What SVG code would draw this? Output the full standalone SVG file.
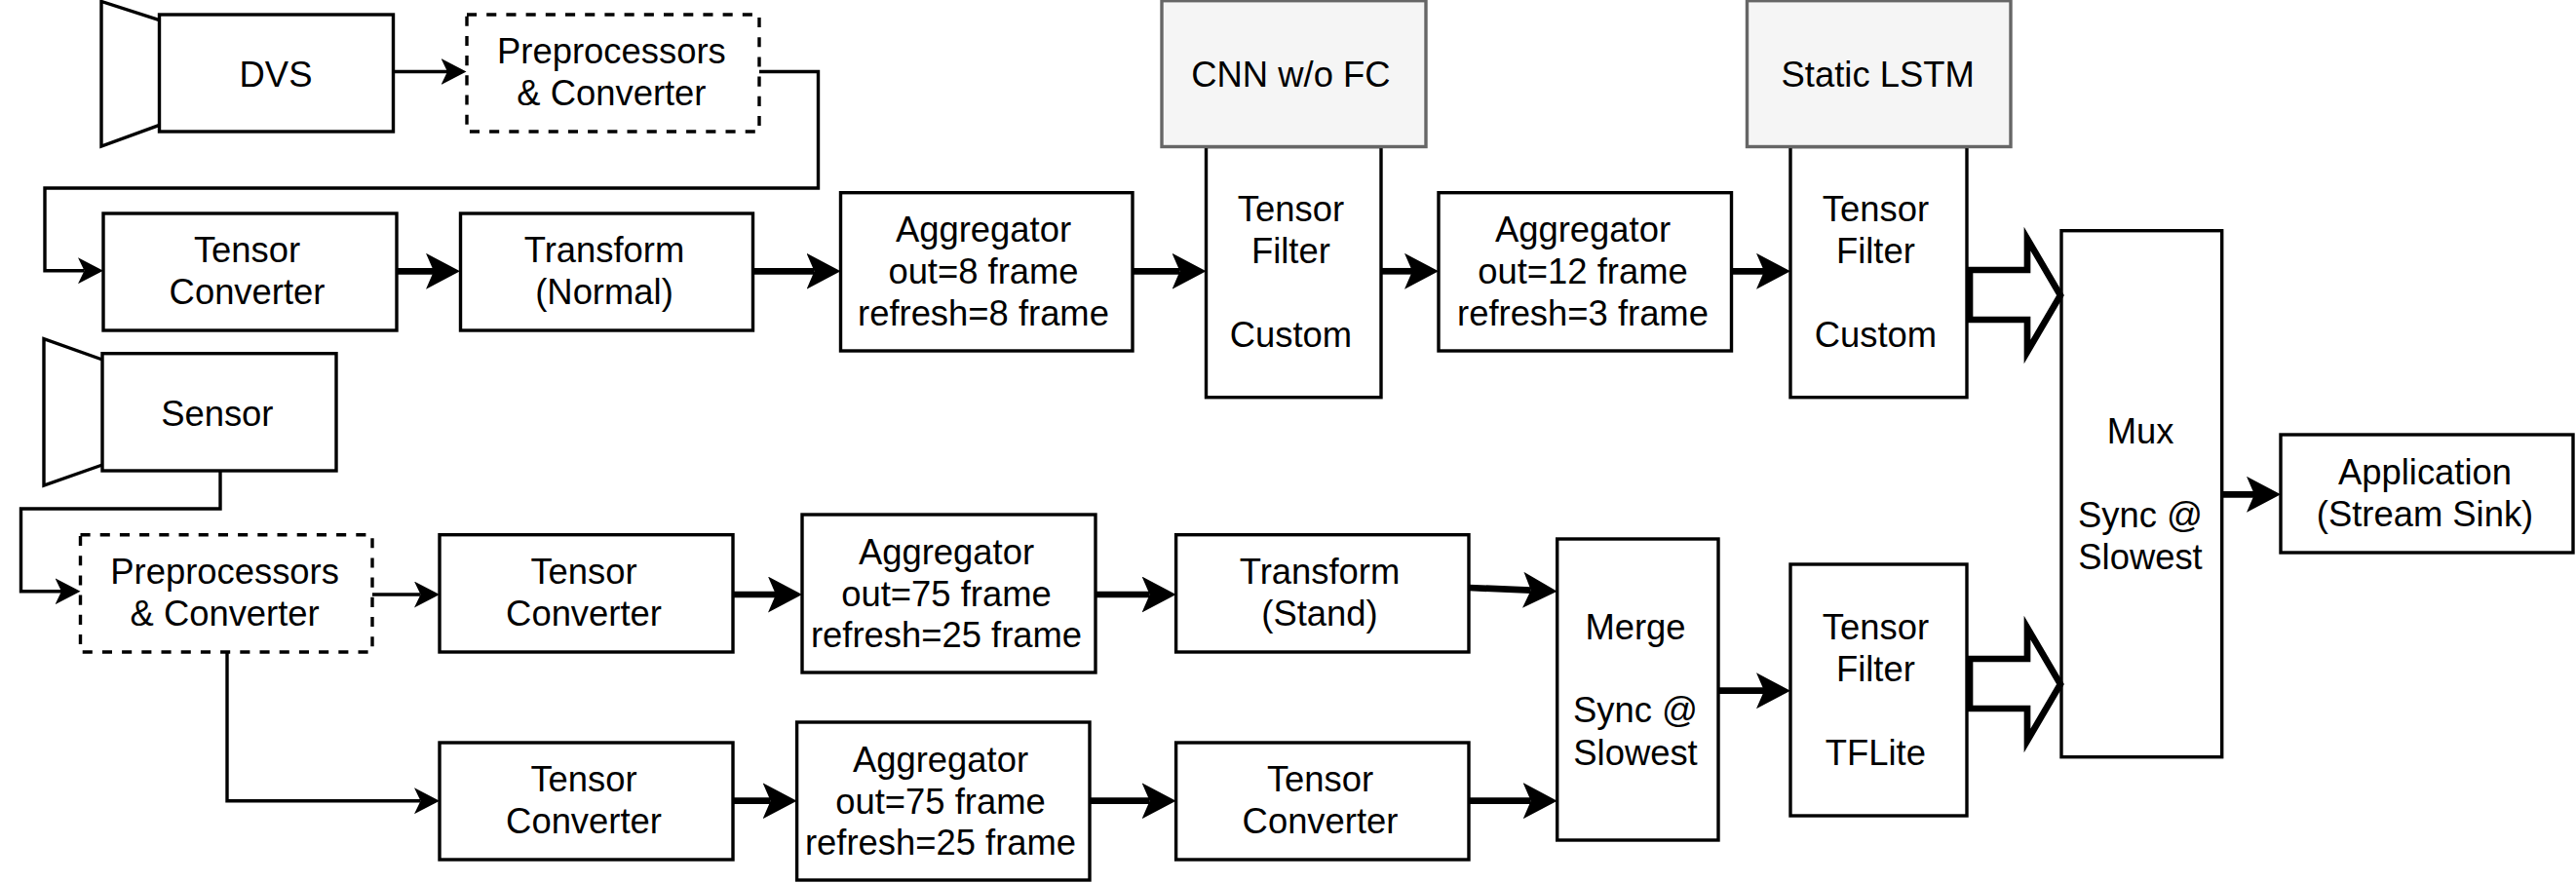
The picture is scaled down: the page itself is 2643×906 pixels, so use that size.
<svg xmlns="http://www.w3.org/2000/svg" width="2643" height="906" viewBox="0 0 2643 906">
<defs>
<style>
text{font-family:"Liberation Sans",Arial,sans-serif;font-size:36.4px;fill:#000;text-anchor:middle}
.b{fill:#fff;stroke:#000;stroke-width:3.4}
.d{fill:#fff;stroke:#000;stroke-width:3.4;stroke-dasharray:10.1 10.1}
.g{fill:#f5f5f5;stroke:#666;stroke-width:3.4}
.t{fill:none;stroke:#000;stroke-width:3.4;marker-end:url(#ah)}
.k{fill:none;stroke:#000;stroke-width:6.7;marker-end:url(#ak)}
.f{fill:#fff;stroke:#000;stroke-width:6.7;stroke-miterlimit:10}
</style>
<marker id="ah" markerUnits="userSpaceOnUse" markerWidth="26" markerHeight="27" viewBox="0 0 26 27" refX="6.5" refY="13.5" orient="auto"><path d="M0,0L26,13.5L0,27L6.5,13.5Z" fill="#000"/></marker>
<marker id="ak" markerUnits="userSpaceOnUse" markerWidth="35" markerHeight="37" viewBox="0 0 35 37" refX="8" refY="18.5" orient="auto"><path d="M0,0L35,18.5L0,37L8,18.5Z" fill="#000"/></marker>
</defs>
<rect width="2643" height="906" fill="#fff"/>
<g id="dvs"><path class="b" d="M163.5,20.7L104,1.5V150L163.5,128.3"/><rect class="b" x="163.5" y="15" width="240" height="120"/><text x="283" y="88.8">DVS</text></g>
<g id="pre1"><rect class="d" x="479" y="15" width="300" height="120"/><text x="627.4" y="65">Preprocessors</text><text x="627.4" y="107.7">&amp; Converter</text></g>
<g id="tc1"><rect class="b" x="106" y="219" width="301" height="120"/><text x="253.5" y="269.2">Tensor</text><text x="253.5" y="311.9">Converter</text></g>
<g id="tr1"><rect class="b" x="472.5" y="219" width="300" height="120"/><text x="620" y="269.2">Transform</text><text x="620" y="311.9">(Normal)</text></g>
<g id="ag1"><rect class="b" x="862.5" y="197.7" width="299.5" height="162.3"/><text x="1009" y="248.2">Aggregator</text><text x="1009" y="290.9">out=8 frame</text><text x="1009" y="333.6">refresh=8 frame</text></g>
<g id="tf1"><rect class="b" x="1237.5" y="150.5" width="179.5" height="257.2"/><text x="1324.4" y="227.2">Tensor</text><text x="1324.4" y="269.9">Filter</text><text x="1324.4" y="355.8">Custom</text></g>
<g id="cnn"><rect class="g" x="1192" y="0.7" width="271" height="149.8"/><text x="1324.4" y="89.2">CNN w/o FC</text></g>
<g id="ag2"><rect class="b" x="1476" y="197.7" width="300.5" height="162.3"/><text x="1624" y="248.2">Aggregator</text><text x="1624" y="290.9">out=12 frame</text><text x="1624" y="333.6">refresh=3 frame</text></g>
<g id="tf2"><rect class="b" x="1837" y="150.5" width="181" height="257.2"/><text x="1924.4" y="227.2">Tensor</text><text x="1924.4" y="269.9">Filter</text><text x="1924.4" y="355.8">Custom</text></g>
<g id="lstm"><rect class="g" x="1792.5" y="0.7" width="270.5" height="149.8"/><text x="1926.7" y="89.2">Static LSTM</text></g>
<g id="mux"><rect class="b" x="2115" y="236.7" width="164.7" height="540"/><text x="2196" y="455.2">Mux</text><text x="2196" y="540.5">Sync @</text><text x="2196" y="583.5">Slowest</text></g>
<g id="app"><rect class="b" x="2340" y="446" width="300" height="121"/><text x="2488" y="497.2">Application</text><text x="2488" y="540">(Stream Sink)</text></g>
<g id="sensor"><path class="b" d="M105,369L45,347.7V498L105,477"/><rect class="b" x="105" y="362.7" width="240" height="120.3"/><text x="222.8" y="437.2">Sensor</text></g>
<g id="pre2"><rect class="d" x="82.5" y="548.7" width="299.5" height="120.3"/><text x="230.6" y="598.5">Preprocessors</text><text x="230.6" y="641.5">&amp; Converter</text></g>
<g id="tc2"><rect class="b" x="451" y="548.7" width="301" height="120.3"/><text x="599" y="598.5">Tensor</text><text x="599" y="641.5">Converter</text></g>
<g id="ag3"><rect class="b" x="823" y="528" width="301" height="162"/><text x="971" y="578.8">Aggregator</text><text x="971" y="621.5">out=75 frame</text><text x="971" y="664">refresh=25 frame</text></g>
<g id="tr2"><rect class="b" x="1206.6" y="548.7" width="300.4" height="120.3"/><text x="1354" y="598.5">Transform</text><text x="1354" y="641.5">(Stand)</text></g>
<g id="tc3"><rect class="b" x="451" y="762" width="301" height="120"/><text x="599" y="811.8">Tensor</text><text x="599" y="854.5">Converter</text></g>
<g id="ag4"><rect class="b" x="817.6" y="741" width="300.4" height="162"/><text x="965" y="791.8">Aggregator</text><text x="965" y="834.5">out=75 frame</text><text x="965" y="877.2">refresh=25 frame</text></g>
<g id="tc4"><rect class="b" x="1206.6" y="762" width="300.4" height="120"/><text x="1354.5" y="811.8">Tensor</text><text x="1354.5" y="854.5">Converter</text></g>
<g id="merge"><rect class="b" x="1597.7" y="553" width="165.3" height="309"/><text x="1678" y="655.5">Merge</text><text x="1678" y="741.2">Sync @</text><text x="1678" y="784.5">Slowest</text></g>
<g id="tf3"><rect class="b" x="1837" y="579" width="181" height="258"/><text x="1924.4" y="655.5">Tensor</text><text x="1924.4" y="698.8">Filter</text><text x="1924.4" y="784.5">TFLite</text></g>
<g id="connectors">
<path class="t" d="M403.5,73.5H459"/>
<path class="t" d="M779,73.5H839.5V193H46V277.7H86.5"/>
<path class="k" d="M407,278.3H445"/>
<path class="k" d="M772.7,278.3H835.5"/>
<path class="k" d="M1162,278.3H1210.5"/>
<path class="k" d="M1417,278.3H1449"/>
<path class="k" d="M1776.5,278.3H1810"/>
<path class="k" d="M2279.7,507.3H2313"/>
<path class="t" d="M226,483V522H21.5V606.7H63"/>
<path class="t" d="M382,610H431.5"/>
<path class="t" d="M233,669V821.7H431.5"/>
<path class="k" d="M752,610H796"/>
<path class="k" d="M1124,610H1179.6"/>
<path class="k" d="M1507,603L1570.7,605.6"/>
<path class="k" d="M752,821.7H790.6"/>
<path class="k" d="M1118,821.7H1179.6"/>
<path class="k" d="M1507,821.7H1570.7"/>
<path class="k" d="M1763,708.7H1810"/>
<path class="f" d="M2021,277H2080V245L2114,303L2080,361V328H2021Z"/>
<path class="f" d="M2021,676H2080V644L2114,702L2080,760V727H2021Z"/>
</g>
</svg>
